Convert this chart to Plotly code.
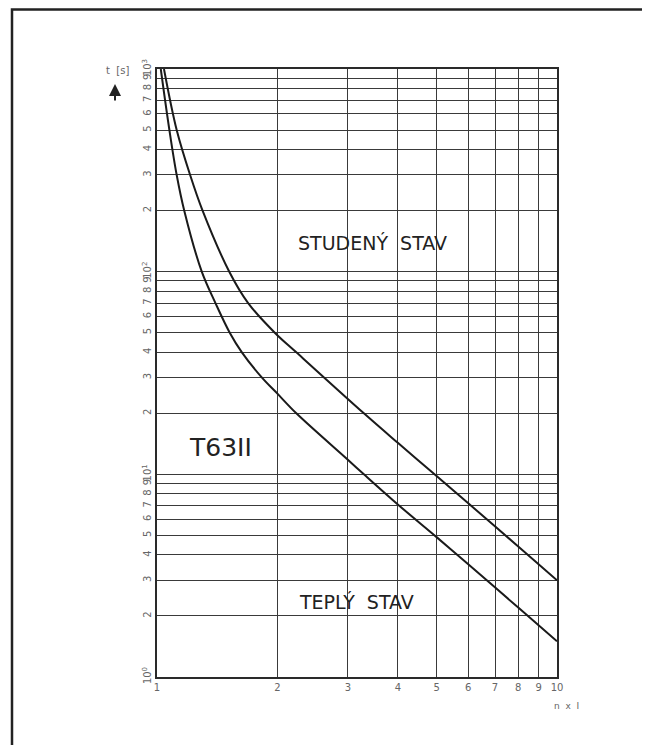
import plotly.graph_objects as go

# Data (n = multiple of rated current, t in seconds)
cold_n = [1.041, 1.12, 1.21, 1.30, 1.516, 1.69, 1.97, 2.23, 3.29, 4.0, 5.0, 6.0, 8.0, 10.0]
cold_t = [1000, 500, 300, 200, 100, 70, 50, 40, 20, 14.3, 9.8, 7.2, 4.4, 3.0]

warm_n = [1.022, 1.074, 1.12, 1.17, 1.294, 1.40, 1.52, 1.63, 1.83, 2.0, 2.23, 3.0, 3.29, 4.0, 5.0, 6.0, 8.0, 10.0]
warm_t = [1000, 500, 300, 200, 100, 70, 50, 40, 30, 25, 20, 11.8, 10, 7.1, 4.9, 3.6, 2.2, 1.5]

x_tickvals = [1, 2, 3, 4, 5, 6, 7, 8, 9, 10]
x_ticktext = ["1", "2", "3", "4", "5", "6", "7", "8", "9", "10"]

y_tickvals = [m * 10 ** k for k in range(3) for m in range(1, 10)] + [1000]
y_ticktext = []
for k in range(3):
    y_ticktext.append("10<sup>%d</sup>" % k)
    y_ticktext += [str(m) for m in range(2, 10)]
y_ticktext.append("10<sup>3</sup>")

LINE = "#2a2a2a"
GRID = "#3a3a3a"
TXT = "#222222"
TICK = "#666666"
FONT = "DejaVu Sans"

fig = go.Figure()
for xs, ys in ((cold_n, cold_t), (warm_n, warm_t)):
    fig.add_trace(go.Scatter(x=xs, y=ys, mode="lines",
                             line=dict(color="#1a1a1a", width=2, shape="spline", smoothing=1.0),
                             showlegend=False, hoverinfo="skip"))

# page has an 8px body margin, so the figure is laid out 8px smaller
fig.update_layout(
    width=642, height=737,
    margin=dict(l=149, r=93, t=61, b=68),
    paper_bgcolor="white", plot_bgcolor="white",
    font=dict(family=FONT, color=TXT),
    xaxis=dict(type="log", range=[0, 1], tickmode="array", tickvals=x_tickvals,
               ticktext=x_ticktext, showgrid=True, gridcolor=GRID, gridwidth=1.3,
               showline=True, linecolor=LINE, linewidth=2, mirror=True,
               ticks="", zeroline=False, tickfont=dict(size=10, color=TICK, family=FONT)),
    yaxis=dict(type="log", range=[0, 3], tickmode="array", tickvals=y_tickvals,
               ticktext=y_ticktext, showgrid=True, gridcolor=GRID, gridwidth=1.3,
               showline=True, linecolor=LINE, linewidth=2, mirror=True,
               ticks="", zeroline=False, tickangle=-90,
               tickfont=dict(size=10, color=TICK, family=FONT)),
)

# helpers: page pixel coordinates -> paper fraction (plot area 157..557 x 69..677 on page)
def px(x):
    return (x - 157) / 400.0

def py(y):
    return (677 - y) / 608.0

# outer frame
fig.add_shape(type="rect", xref="paper", yref="paper",
              x0=px(12), x1=px(645), y0=py(790), y1=py(9.5),
              line=dict(color="#222222", width=2.5), layer="below")

def label(x, y, text, size, color=TXT):
    fig.add_annotation(x=px(x), y=py(y), xref="paper", yref="paper",
                       xanchor="center", yanchor="middle",
                       text=text, showarrow=False,
                       font=dict(size=size, color=color, family=FONT))

label(372, 243, "STUDENÝ  STAV", 19)
label(220, 447, "T63II", 25)
label(356, 602, "TEPLÝ  STAV", 19)
label(566, 706, "n  x  I", 9, TICK)
label(117, 70, "t  [s]", 10, TICK)

fig.add_annotation(x=px(115), y=py(84), xref="paper", yref="paper",
                   text="", showarrow=True, ax=0, ay=18,
                   arrowhead=2, arrowsize=1.2, arrowwidth=2, arrowcolor="#222222")

fig.write_html("out.html")
